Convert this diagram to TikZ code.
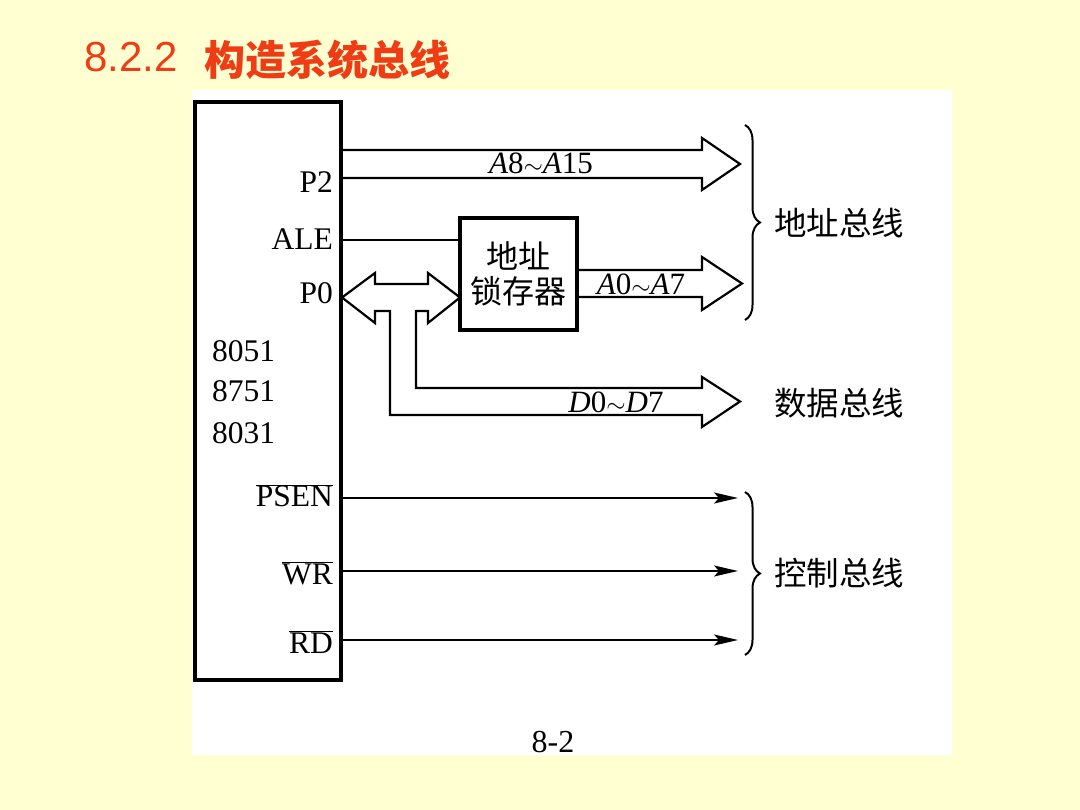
\documentclass[tikz,border=0pt]{standalone}
\usepackage{fontspec}
\setmainfont{Liberation Serif}
\newfontfamily\cjk{Noto Sans CJK SC}
\newfontfamily\titlesans{Liberation Sans}
\usetikzlibrary{arrows.meta,decorations.pathreplacing}
\definecolor{bgyellow}{RGB}{255,255,210}
\definecolor{titlered}{RGB}{240,60,20}
\newcommand\ovl[1]{\ensuremath{\overline{\hbox{#1}}}}
\newcommand\swd{\ensuremath{\mathord{\sim}}}
\tikzset{
  box/.style={draw, line width=3.2pt, inner sep=0pt},
  bus/.style={draw, line width=2.2pt, line join=miter},
  ctrl/.style={line width=1.7pt, -{Stealth[length=24pt,width=11pt,inset=5pt]}},
  brc/.style={line width=2pt, decorate, decoration={brace, amplitude=15pt}},
  pin/.style={anchor=base east, inner sep=0pt},
  cn/.style={font=\cjk\fontsize{32.5}{36}\selectfont, inner sep=0pt},
  buslabel/.style={inner sep=0pt, font=\fontsize{31}{34}\selectfont}
}
\begin{document}
\begin{tikzpicture}[x=1pt,y=-1pt,font=\fontsize{31.5}{34}\selectfont]
\fill[bgyellow] (0,0) rectangle (1080,810);
\fill[white] (192,90) rectangle (952,755);
\useasboundingbox (0,0) rectangle (1080,810);

% title
\node[anchor=west, inner sep=0pt, text=titlered, font=\titlesans\fontsize{42}{42}\selectfont] (t1) at (84,57) {8.2.2};
\node[anchor=west, inner sep=0pt, text=titlered, font=\cjk\bfseries\fontsize{41}{41}\selectfont] (t2) at (204,60) {构造系统总线};

% chip
\node[box, minimum width=146pt, minimum height=578pt] (chip) at (268,391) {};
\node[pin] (p2) at (333,193) {P2};
\node[pin] (ale) at (333,250) {ALE};
\node[pin] (p0) at (333,304) {P0};
\node[anchor=base west, inner sep=0pt] (n1) at (212,362) {8051};
\node[anchor=base west, inner sep=0pt] (n2) at (212,402) {8751};
\node[anchor=base west, inner sep=0pt] (n3) at (212,443) {8031};
\node[pin] (psen) at (333,507) {\ovl{PSEN}};
\node[pin] (wr) at (333,584) {\ovl{WR}};
\node[pin] (rd) at (333,653) {\ovl{RD}};

% latch
\node[box, minimum width=117pt, minimum height=112pt, align=center, font=\cjk\fontsize{32}{35}\selectfont] (latch) at (518.5,274) {地址\\锁存器};

% ALE line
\coordinate (aleA) at (341,240);
\draw[line width=1.7pt] (aleA) -- (latch.west |- aleA);

% A8-A15 bus
\draw[bus] (341,150) -- (702,150) -- (702,138) -- (740,164) -- (702,190) -- (702,178) -- (341,178);
\node[buslabel] (la815) at (541,163) {\textit{A}8\swd\textit{A}15};

% A0-A7 bus
\draw[bus] (latch.east |- 0,270) -- (702,270) -- (702,257) -- (742,283.5) -- (702,310) -- (702,297) -- (latch.east |- 0,297);
\node[buslabel] (la07) at (641,284) {\textit{A}0\swd\textit{A}7};

% P0 bidirectional + data bus
\draw[bus] (342,297.5) -- (375,273) -- (375,284) -- (428,284) -- (428,273) -- (460,297.5)
  -- (428,323) -- (428,311) -- (416,311) -- (416,388) -- (702,388) -- (702,377)
  -- (740,401.5) -- (702,427) -- (702,415) -- (390,415) -- (390,311) -- (375,311)
  -- (375,323) -- cycle;
\node[buslabel] (ld07) at (616,402) {\textit{D}0\swd\textit{D}7};

% control lines
\coordinate (e1) at (738,498);
\coordinate (e2) at (738,571);
\coordinate (e3) at (738,640);
\draw[ctrl] (341,498) -- (e1);
\draw[ctrl] (341,571) -- (e2);
\draw[ctrl] (341,640) -- (e3);

% braces
\draw[brc] (745,125) -- (745,320);
\draw[brc] (745,492) -- (745,655);

% bus names
\node[cn, anchor=west] (ab) at (774,223) {地址总线};
\node[cn, anchor=west] (db) at (774,403) {数据总线};
\node[cn, anchor=west] (cb) at (774,573) {控制总线};

% figure number
\node[inner sep=0pt, font=\fontsize{32}{34}\selectfont] (fig) at (553,742) {8-2};
\end{tikzpicture}
\end{document}
